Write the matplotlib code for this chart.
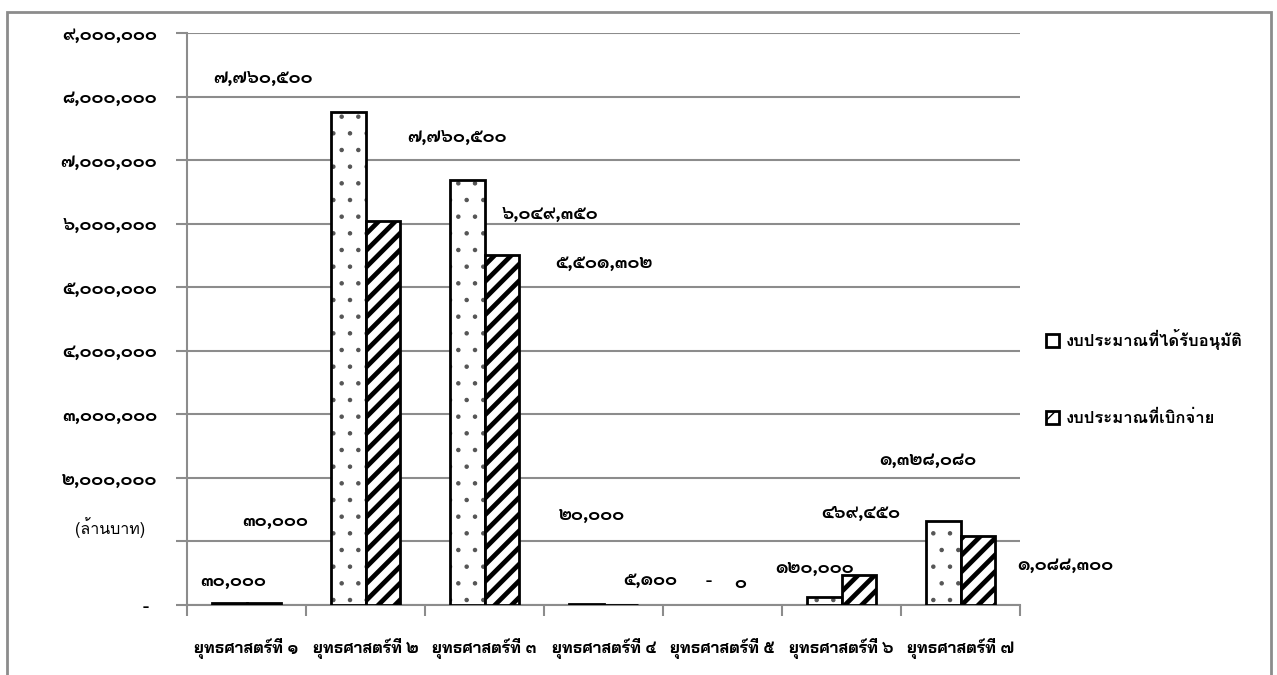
import matplotlib
matplotlib.use("Agg")
import matplotlib.pyplot as plt
from matplotlib.patches import Rectangle
import numpy as np

# ---------------- data ----------------
categories = ["ยุทธศาสตร์ที่ ๑", "ยุทธศาสตร์ที่ ๒", "ยุทธศาสตร์ที่ ๓", "ยุทธศาสตร์ที่ ๔",
              "ยุทธศาสตร์ที่ ๕", "ยุทธศาสตร์ที่ ๖", "ยุทธศาสตร์ที่ ๗"]
approved = [30000, 7760500, 6690000, 20000, 0, 120000, 1328080]
disbursed = [30000, 6049350, 5501302, 5100, 0, 469450, 1088300]
series_names = ["งบประมาณที่ได้รับอนุมัติ", "งบประมาณที่เบิกจ่าย"]
y_ticks = [0, 1000000, 2000000, 3000000, 4000000, 5000000, 6000000, 7000000, 8000000, 9000000]
unit_label = "(ล้านบาท)"
# data labels as shown in the picture (value, x in category units, y in baht)
label_values = [7760500, 7760500, 6049350, 5501302, 30000, 30000, 20000, 5100, None, 0,
                120000, 469450, 1328080, 1088300]
label_x = [0.14, 1.77, 2.55, 3.00, 0.24, -0.11, 2.90, 3.39, 3.88, 4.15, 4.77, 5.16, 5.73, 6.88]
label_y = [8290000, 7363000, 6152000, 5381000, 1322000, 378000, 1416000, 393000, 362000,
           346000, 582000, 1447000, 2281000, 629000]

THAI = str.maketrans("0123456789", "๐๑๒๓๔๕๖๗๘๙")


def thai_num(v):
    if v is None:
        return "-"
    return f"{v:,}".translate(THAI)


DIGIT_FONT = ["Sarabun", "DejaVu Sans"]
TEXT_FONT = ["Loma", "DejaVu Sans"]
CAT_FONT = ["Bai Jamjuree", "DejaVu Sans"]

fig = plt.figure(figsize=(12.77, 6.75), dpi=100)
ax = fig.add_axes([187 / 1277, 1 - 605 / 675, (1020 - 187) / 1277, (605 - 33) / 675])

x = np.arange(len(categories))
w = 0.293
grid_c = "#8c8c8c"
lw_a = [2 if v > 0 else 0 for v in approved]
lw_d = [2 if v > 0 else 0 for v in disbursed]

# approved: gray dots + black outline
with plt.rc_context({"hatch.linewidth": 0.8}):
    ax.bar(x - w / 2, approved, w, color="white", edgecolor="#555555", hatch=".",
           linewidth=0, zorder=3)
b1 = ax.bar(x - w / 2, approved, w, fill=False, edgecolor="black", linewidth=lw_a, zorder=4,
            label=series_names[0])
with plt.rc_context({"hatch.linewidth": 3.4}):
    b2 = ax.bar(x + w / 2, disbursed, w, color="white", edgecolor="black", hatch="//",
                linewidth=lw_d, zorder=4, label=series_names[1])

ax.set_xlim(-0.5, len(categories) - 0.5)
ax.set_ylim(0, 9000000)
ax.set_yticks(y_ticks)
ylabels = []
for v in y_ticks:
    if v == 0:
        ylabels.append("-  ")
    elif v == 1000000:
        ylabels.append("")
    else:
        ylabels.append(thai_num(v))
ax.set_yticklabels(ylabels, family=DIGIT_FONT, fontweight="bold", fontsize=13)
ax.yaxis.grid(True, color=grid_c, linewidth=1.5, zorder=0)
ax.set_axisbelow(True)
ax.tick_params(axis="y", length=8, width=1.5, color=grid_c, pad=13.5)

ax.set_xticks(np.arange(len(categories) + 1) - 0.5)
ax.set_xticklabels([])
ax.set_xticks(x, minor=True)
ax.set_xticklabels(categories, minor=True, family=CAT_FONT, fontweight="bold", fontsize=11.5)
ax.tick_params(axis="x", which="major", length=8, width=1.5, color=grid_c, direction="out")
ax.tick_params(axis="x", which="minor", length=0, pad=24)

for s in ["top", "right"]:
    ax.spines[s].set_visible(False)
for s in ["left", "bottom"]:
    ax.spines[s].set_color(grid_c)
    ax.spines[s].set_linewidth(1.5)

for v, lx, ly in zip(label_values, label_x, label_y):
    ax.text(lx, ly, thai_num(v), ha="center", va="center", family=DIGIT_FONT,
            fontweight="bold", fontsize=13, clip_on=False, zorder=5)

fig.text(110 / 1277, 1 - 528 / 675, unit_label, ha="center", va="center", family=TEXT_FONT,
         fontsize=11.5)

leg = fig.legend(handles=[b1, b2], labels=series_names, loc="upper left",
                 bbox_to_anchor=(1031 / 1277, 1 - 314 / 675), frameon=False,
                 handlelength=0.8, handleheight=0.8, handletextpad=0.4, labelspacing=3.6,
                 prop={"family": TEXT_FONT, "size": 12, "weight": "bold"})

# outer chart border
fig.patches.append(Rectangle((7 / 1277, -0.05), (1271 - 7) / 1277, 0.05 + 1 - 12 / 675,
                             transform=fig.transFigure, fill=False, edgecolor=grid_c,
                             linewidth=2))

fig.savefig("out.png", dpi=100)
